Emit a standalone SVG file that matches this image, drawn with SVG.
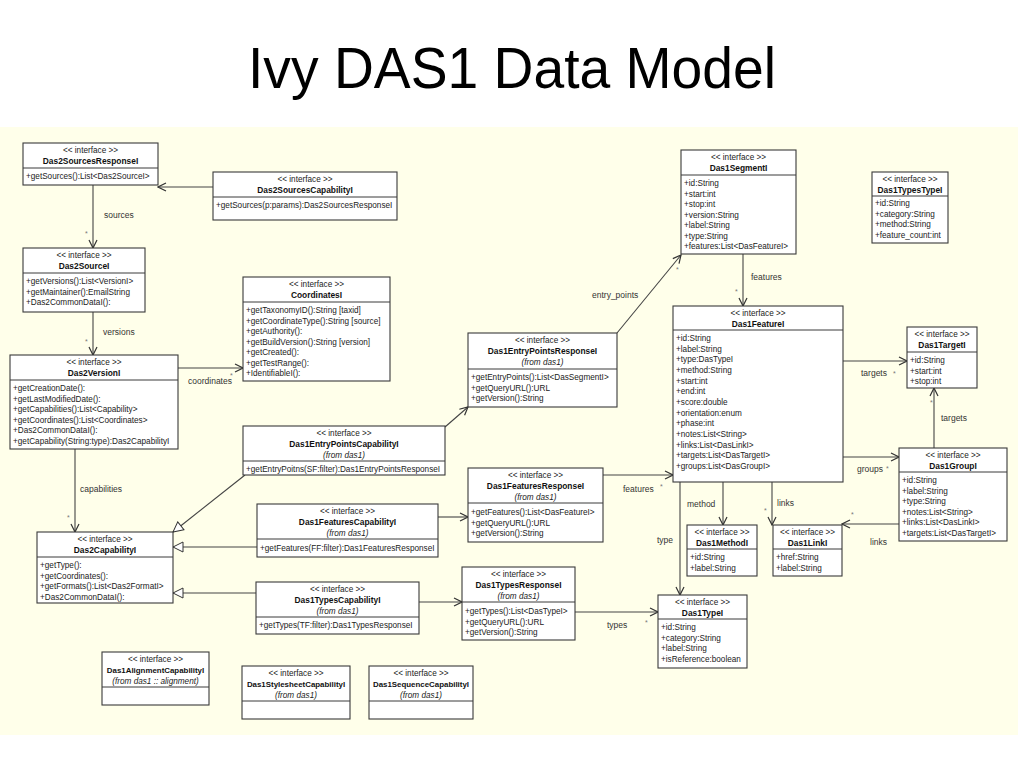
<svg xmlns="http://www.w3.org/2000/svg" width="1024" height="768" viewBox="0 0 1024 768">
<defs>
<style>
.bx{fill:#fff;stroke:#3a3a3a;stroke-width:1.1}
.sp{stroke:#3a3a3a;stroke-width:1}
.st{font-family:"Liberation Sans",Arial,sans-serif;font-size:8.2px;text-anchor:middle;fill:#222}
.nm{font-family:"Liberation Sans",Arial,sans-serif;font-size:8.4px;font-weight:bold;text-anchor:middle;fill:#111}
.nms{font-size:7.9px}
.fr{font-family:"Liberation Sans",Arial,sans-serif;font-size:8.2px;font-style:italic;text-anchor:middle;fill:#222}
.at{font-family:"Liberation Sans",Arial,sans-serif;font-size:8.2px;fill:#222}
.lb{font-family:"Liberation Sans",Arial,sans-serif;font-size:8.5px;fill:#333}
.sr{font-family:"Liberation Sans",Arial,sans-serif;font-size:7px;fill:#777}
.ed{fill:none;stroke:#444;stroke-width:1.1}
.ar{marker-end:url(#open)}
.gn{marker-end:url(#tri)}
</style>
<marker id="open" viewBox="0 0 10 10" refX="9" refY="5" markerWidth="10" markerHeight="10" markerUnits="userSpaceOnUse" orient="auto">
<path d="M1,1 L9,5 L1,9" fill="none" stroke="#333" stroke-width="1.2"/>
</marker>
<marker id="tri" viewBox="0 0 12 12" refX="11" refY="6" markerWidth="12" markerHeight="12" markerUnits="userSpaceOnUse" orient="auto">
<path d="M1,1 L11,6 L1,11 Z" fill="#fff" stroke="#333" stroke-width="1"/>
</marker>
</defs>
<rect x="0" y="0" width="1024" height="768" fill="#fff"/>
<rect x="0" y="127" width="1018" height="608" fill="#FFFFEA"/>
<text x="248" y="88" font-family="'Liberation Sans',Arial,sans-serif" font-size="58" fill="#000" textLength="528" lengthAdjust="spacingAndGlyphs">Ivy DAS1 Data Model</text>

<g id="connectors">
<path class="ed ar" d="M213,187 L158,187"/>
<path class="ed ar" d="M93,185 L93,248"/>
<text class="lb" x="104" y="218">sources</text>
<text class="sr" x="85" y="236">*</text>
<path class="ed ar" d="M93,312 L93,355"/>
<text class="lb" x="103" y="335">versions</text>
<text class="sr" x="85" y="344">*</text>
<path class="ed ar" d="M178,368 L243,368"/>
<text class="lb" x="188" y="384">coordinates</text>
<text class="sr" x="230" y="378">*</text>
<path class="ed ar" d="M75,449 L75,532"/>
<text class="lb" x="80" y="492">capabilities</text>
<text class="sr" x="67" y="520">*</text>
<path class="ed gn" d="M245,475 L173,532"/>
<path class="ed gn" d="M257,547 L173,547"/>
<path class="ed gn" d="M256,593 L173,593"/>
<path class="ed ar" d="M445,427 L468,407"/>
<path class="ed ar" d="M438,517 L468,517"/>
<path class="ed ar" d="M419,602 L462,602"/>
<path class="ed ar" d="M617,333 L681,255"/>
<text class="lb" x="592" y="298">entry_points</text>
<text class="sr" x="676" y="272">*</text>
<path class="ed ar" d="M743,254 L743,306"/>
<text class="lb" x="751" y="280">features</text>
<text class="sr" x="735" y="294">*</text>
<path class="ed ar" d="M603,475 L673,475"/>
<text class="lb" x="623" y="492">features</text>
<text class="sr" x="660" y="489">*</text>
<path class="ed ar" d="M575,612 L658,612"/>
<text class="lb" x="607" y="628">types</text>
<text class="sr" x="645" y="625">*</text>
<path class="ed ar" d="M680,482 L680,595"/>
<text class="lb" x="657" y="543">type</text>
<path class="ed ar" d="M723,482 L723,525"/>
<text class="lb" x="687" y="507">method</text>
<path class="ed ar" d="M772,482 L772,525"/>
<text class="lb" x="777" y="506">links</text>
<text class="sr" x="764" y="513">*</text>
<path class="ed ar" d="M843,361 L907,361"/>
<text class="lb" x="861" y="376">targets</text>
<text class="sr" x="893" y="376">*</text>
<path class="ed ar" d="M843,457 L899,457"/>
<text class="lb" x="857" y="472">groups</text>
<text class="sr" x="886" y="471">*</text>
<path class="ed ar" d="M934,448 L934,388"/>
<text class="lb" x="941" y="421">targets</text>
<text class="sr" x="930" y="405">*</text>
<path class="ed ar" d="M899,524 L842,524"/>
<text class="lb" x="870" y="545">links</text>
<text class="sr" x="851" y="517">*</text>
</g>

<g id="Das2SourcesResponseI">
<rect class="bx" x="23" y="143" width="135" height="42"/>
<line class="sp" x1="23" y1="168" x2="158" y2="168"/>
<text class="st" x="90.5" y="153">&lt;&lt; interface &gt;&gt;</text>
<text class="nm" x="90.5" y="164">Das2SourcesResponseI</text>
<text class="at" x="26" y="179">+getSources():List&lt;Das2SourceI&gt;</text>
</g>

<g id="Das2SourcesCapabilityI">
<rect class="bx" x="213" y="172" width="184" height="48"/>
<line class="sp" x1="213" y1="197" x2="397" y2="197"/>
<text class="st" x="305" y="182">&lt;&lt; interface &gt;&gt;</text>
<text class="nm" x="305" y="193">Das2SourcesCapabilityI</text>
<text class="at" x="216" y="208">+getSources(p:params):Das2SourcesResponseI</text>
</g>

<g id="Das2SourceI">
<rect class="bx" x="23" y="248" width="122" height="64"/>
<line class="sp" x1="23" y1="273" x2="145" y2="273"/>
<text class="st" x="84" y="258">&lt;&lt; interface &gt;&gt;</text>
<text class="nm" x="84" y="269">Das2SourceI</text>
<text class="at" x="26" y="284">+getVersions():List&lt;VersionI&gt;</text>
<text class="at" x="26" y="294.5">+getMaintainer():EmailString</text>
<text class="at" x="26" y="305">+Das2CommonDataI():</text>
</g>

<g id="Das2VersionI">
<rect class="bx" x="10" y="355" width="168" height="94"/>
<line class="sp" x1="10" y1="380" x2="178" y2="380"/>
<text class="st" x="94" y="365">&lt;&lt; interface &gt;&gt;</text>
<text class="nm" x="94" y="376">Das2VersionI</text>
<text class="at" x="13" y="391">+getCreationDate():</text>
<text class="at" x="13" y="401.5">+getLastModifiedDate():</text>
<text class="at" x="13" y="412">+getCapabilities():List&lt;Capability&gt;</text>
<text class="at" x="13" y="422.5">+getCoordinates():List&lt;Coordinates&gt;</text>
<text class="at" x="13" y="433">+Das2CommonDataI():</text>
<text class="at" x="13" y="443.5">+getCapability(String:type):Das2CapabilityI</text>
</g>

<g id="CoordinatesI">
<rect class="bx" x="243" y="277" width="147" height="104"/>
<line class="sp" x1="243" y1="302" x2="390" y2="302"/>
<text class="st" x="316.5" y="287">&lt;&lt; interface &gt;&gt;</text>
<text class="nm" x="316.5" y="298">CoordinatesI</text>
<text class="at" x="246" y="313">+getTaxonomyID():String [taxid]</text>
<text class="at" x="246" y="323.5">+getCoordinateType():String [source]</text>
<text class="at" x="246" y="334">+getAuthority():</text>
<text class="at" x="246" y="344.5">+getBuildVersion():String [version]</text>
<text class="at" x="246" y="355">+getCreated():</text>
<text class="at" x="246" y="365.5">+getTestRange():</text>
<text class="at" x="246" y="376">+IdentifiableI():</text>
</g>

<g id="Das2CapabilityI">
<rect class="bx" x="37" y="532" width="136" height="71"/>
<line class="sp" x1="37" y1="557" x2="173" y2="557"/>
<text class="st" x="105" y="542">&lt;&lt; interface &gt;&gt;</text>
<text class="nm" x="105" y="553">Das2CapabilityI</text>
<text class="at" x="40" y="568">+getType():</text>
<text class="at" x="40" y="578.5">+getCoordinates():</text>
<text class="at" x="40" y="589">+getFormats():List&lt;Das2FormatI&gt;</text>
<text class="at" x="40" y="599.5">+Das2CommonDataI():</text>
</g>

<g id="Das1EntryPointsCapabilityI">
<rect class="bx" x="243" y="426" width="202" height="49"/>
<line class="sp" x1="243" y1="461" x2="445" y2="461"/>
<text class="st" x="344" y="436">&lt;&lt; interface &gt;&gt;</text>
<text class="nm" x="344" y="447">Das1EntryPointsCapabilityI</text>
<text class="fr" x="344" y="458">(from das1)</text>
<text class="at" x="246" y="472">+getEntryPoitns(SF:filter):Das1EntryPointsResponseI</text>
</g>

<g id="Das1FeaturesCapabilityI">
<rect class="bx" x="257" y="504" width="181" height="53"/>
<line class="sp" x1="257" y1="539" x2="438" y2="539"/>
<text class="st" x="347.5" y="514">&lt;&lt; interface &gt;&gt;</text>
<text class="nm" x="347.5" y="525">Das1FeaturesCapabilityI</text>
<text class="fr" x="347.5" y="536">(from das1)</text>
<text class="at" x="260" y="551">+getFeatures(FF:filter):Das1FeaturesResponseI</text>
</g>

<g id="Das1TypesCapabilityI">
<rect class="bx" x="256" y="582" width="163" height="52"/>
<line class="sp" x1="256" y1="617" x2="419" y2="617"/>
<text class="st" x="337.5" y="592">&lt;&lt; interface &gt;&gt;</text>
<text class="nm" x="337.5" y="603">Das1TypesCapabilityI</text>
<text class="fr" x="337.5" y="614">(from das1)</text>
<text class="at" x="259" y="628">+getTypes(TF:filter):Das1TypesResponseI</text>
</g>

<g id="Das1AlignmentCapabilityI">
<rect class="bx" x="102" y="652" width="107" height="53"/>
<line class="sp" x1="102" y1="687" x2="209" y2="687"/>
<text class="st" x="155.5" y="662">&lt;&lt; interface &gt;&gt;</text>
<text class="nm nms" x="155.5" y="673">Das1AlignmentCapabilityI</text>
<text class="fr" x="155.5" y="684">(from das1 :: alignment)</text>
</g>

<g id="Das1StylesheetCapabilityI">
<rect class="bx" x="242" y="666" width="108" height="53"/>
<line class="sp" x1="242" y1="701" x2="350" y2="701"/>
<text class="st" x="296" y="676">&lt;&lt; interface &gt;&gt;</text>
<text class="nm nms" x="296" y="687">Das1StylesheetCapabilityI</text>
<text class="fr" x="296" y="698">(from das1)</text>
</g>

<g id="Das1SequenceCapabilityI">
<rect class="bx" x="369" y="666" width="104" height="53"/>
<line class="sp" x1="369" y1="701" x2="473" y2="701"/>
<text class="st" x="421" y="676">&lt;&lt; interface &gt;&gt;</text>
<text class="nm nms" x="421" y="687">Das1SequenceCapabilityI</text>
<text class="fr" x="421" y="698">(from das1)</text>
</g>

<g id="Das1EntryPointsResponseI">
<rect class="bx" x="468" y="333" width="149" height="74"/>
<line class="sp" x1="468" y1="369" x2="617" y2="369"/>
<text class="st" x="542.5" y="343">&lt;&lt; interface &gt;&gt;</text>
<text class="nm" x="542.5" y="354">Das1EntryPointsResponseI</text>
<text class="fr" x="542.5" y="365">(from das1)</text>
<text class="at" x="471" y="380">+getEntryPoints():List&lt;DasSegmentI&gt;</text>
<text class="at" x="471" y="390.5">+getQueryURL():URL</text>
<text class="at" x="471" y="401">+getVersion():String</text>
</g>

<g id="Das1FeaturesResponseI">
<rect class="bx" x="468" y="468" width="135" height="74"/>
<line class="sp" x1="468" y1="503" x2="603" y2="503"/>
<text class="st" x="535.5" y="478">&lt;&lt; interface &gt;&gt;</text>
<text class="nm" x="535.5" y="489">Das1FeaturesResponseI</text>
<text class="fr" x="535.5" y="500">(from das1)</text>
<text class="at" x="471" y="515">+getFeatures():List&lt;DasFeatureI&gt;</text>
<text class="at" x="471" y="525.5">+getQueryURL():URL</text>
<text class="at" x="471" y="536">+getVersion():String</text>
</g>

<g id="Das1TypesResponseI">
<rect class="bx" x="462" y="567" width="113" height="73"/>
<line class="sp" x1="462" y1="602" x2="575" y2="602"/>
<text class="st" x="518.5" y="577">&lt;&lt; interface &gt;&gt;</text>
<text class="nm" x="518.5" y="588">Das1TypesResponseI</text>
<text class="fr" x="518.5" y="599">(from das1)</text>
<text class="at" x="465" y="614">+getTypes():List&lt;DasTypeI&gt;</text>
<text class="at" x="465" y="624.5">+getQueryURL():URL</text>
<text class="at" x="465" y="635">+getVersion():String</text>
</g>

<g id="Das1SegmentI">
<rect class="bx" x="681" y="150" width="115" height="104"/>
<line class="sp" x1="681" y1="175" x2="796" y2="175"/>
<text class="st" x="738.5" y="160">&lt;&lt; interface &gt;&gt;</text>
<text class="nm" x="738.5" y="171">Das1SegmentI</text>
<text class="at" x="684" y="186">+id:String</text>
<text class="at" x="684" y="196.5">+start:int</text>
<text class="at" x="684" y="207">+stop:int</text>
<text class="at" x="684" y="217.5">+version:String</text>
<text class="at" x="684" y="228">+label:String</text>
<text class="at" x="684" y="238.5">+type:String</text>
<text class="at" x="684" y="249">+features:List&lt;DasFeatureI&gt;</text>
</g>

<g id="Das1FeatureI">
<rect class="bx" x="673" y="306" width="170" height="176"/>
<line class="sp" x1="673" y1="330" x2="843" y2="330"/>
<text class="st" x="758" y="316">&lt;&lt; interface &gt;&gt;</text>
<text class="nm" x="758" y="327">Das1FeatureI</text>
<text class="at" x="676" y="341">+id:String</text>
<text class="at" x="676" y="351.7">+label:String</text>
<text class="at" x="676" y="362.3">+type:DasTypeI</text>
<text class="at" x="676" y="373">+method:String</text>
<text class="at" x="676" y="383.7">+start:int</text>
<text class="at" x="676" y="394.3">+end:int</text>
<text class="at" x="676" y="405">+score:double</text>
<text class="at" x="676" y="415.7">+orientation:enum</text>
<text class="at" x="676" y="426.3">+phase:int</text>
<text class="at" x="676" y="437">+notes:List&lt;String&gt;</text>
<text class="at" x="676" y="447.7">+links:List&lt;DasLinkI&gt;</text>
<text class="at" x="676" y="458.3">+targets:List&lt;DasTargetI&gt;</text>
<text class="at" x="676" y="469">+groups:List&lt;DasGroupI&gt;</text>
</g>

<g id="Das1TypeI">
<rect class="bx" x="658" y="595" width="89" height="73"/>
<line class="sp" x1="658" y1="619" x2="747" y2="619"/>
<text class="st" x="702.5" y="605">&lt;&lt; interface &gt;&gt;</text>
<text class="nm" x="702.5" y="616">Das1TypeI</text>
<text class="at" x="661" y="630">+id:String</text>
<text class="at" x="661" y="640.5">+category:String</text>
<text class="at" x="661" y="651">+label:String</text>
<text class="at" x="661" y="661.5">+isReference:boolean</text>
</g>

<g id="Das1MethodI">
<rect class="bx" x="687" y="525" width="70" height="51"/>
<line class="sp" x1="687" y1="549" x2="757" y2="549"/>
<text class="st" x="722" y="535">&lt;&lt; interface &gt;&gt;</text>
<text class="nm" x="722" y="546">Das1MethodI</text>
<text class="at" x="690" y="560">+id:String</text>
<text class="at" x="690" y="570.5">+label:String</text>
</g>

<g id="Das1LinkI">
<rect class="bx" x="773" y="525" width="69" height="51"/>
<line class="sp" x1="773" y1="549" x2="842" y2="549"/>
<text class="st" x="807.5" y="535">&lt;&lt; interface &gt;&gt;</text>
<text class="nm" x="807.5" y="546">Das1LinkI</text>
<text class="at" x="776" y="560">+href:String</text>
<text class="at" x="776" y="570.5">+label:String</text>
</g>

<g id="Das1TypesTypeI">
<rect class="bx" x="872" y="172" width="76" height="71"/>
<line class="sp" x1="872" y1="196" x2="948" y2="196"/>
<text class="st" x="910" y="182">&lt;&lt; interface &gt;&gt;</text>
<text class="nm" x="910" y="193">Das1TypesTypeI</text>
<text class="at" x="875" y="206">+id:String</text>
<text class="at" x="875" y="216.5">+category:String</text>
<text class="at" x="875" y="227">+method:String</text>
<text class="at" x="875" y="237.5">+feature_count:int</text>
</g>

<g id="Das1TargetI">
<rect class="bx" x="907" y="327" width="70" height="61"/>
<line class="sp" x1="907" y1="352" x2="977" y2="352"/>
<text class="st" x="942" y="337">&lt;&lt; interface &gt;&gt;</text>
<text class="nm" x="942" y="348">Das1TargetI</text>
<text class="at" x="910" y="363">+id:String</text>
<text class="at" x="910" y="373.5">+start:int</text>
<text class="at" x="910" y="384">+stop:int</text>
</g>

<g id="Das1GroupI">
<rect class="bx" x="899" y="448" width="108" height="93"/>
<line class="sp" x1="899" y1="472" x2="1007" y2="472"/>
<text class="st" x="953" y="458">&lt;&lt; interface &gt;&gt;</text>
<text class="nm" x="953" y="469">Das1GroupI</text>
<text class="at" x="902" y="483">+id:String</text>
<text class="at" x="902" y="493.5">+label:String</text>
<text class="at" x="902" y="504">+type:String</text>
<text class="at" x="902" y="514.5">+notes:List&lt;String&gt;</text>
<text class="at" x="902" y="525">+links:List&lt;DasLinkI&gt;</text>
<text class="at" x="902" y="535.5">+targets:List&lt;DasTargetI&gt;</text>
</g>
</svg>
